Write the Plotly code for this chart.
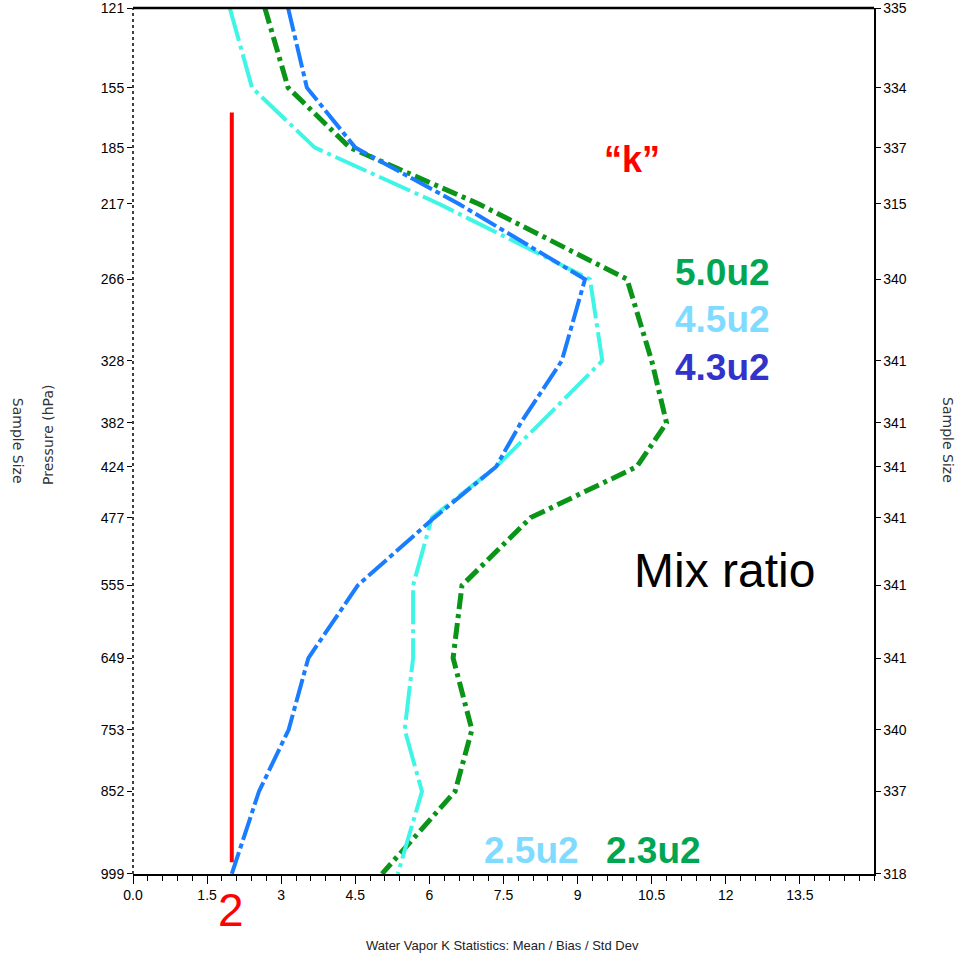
import numpy as np
import plotly.graph_objects as go

# ---- data ----
pressure_levels = [121, 155, 185, 217, 266, 328, 382, 424, 477, 555, 649, 753, 852, 999]
sample_size = ["335", "334", "337", "315", "340", "341", "341", "341", "341", "341", "341", "340", "337", "318"]

blue_vals = [3.14, 3.52, 4.50, 6.60, 9.15, 8.68, 7.85, 7.35, 6.10, 4.55, 3.55, 3.15, 2.55, 2.00]
cyan_vals = [1.96, 2.41, 3.68, 6.20, 9.25, 9.50, 8.25, 7.35, 6.05, 5.67, 5.67, 5.50, 5.85, 5.36]
green_vals = [2.67, 3.14, 4.39, 7.00, 10.00, 10.50, 10.80, 10.20, 8.05, 6.66, 6.48, 6.86, 6.52, 5.04]

red_x = [2.0, 2.0]
red_p = [167, 977]

x_tickvals = [0, 1.5, 3, 4.5, 6, 7.5, 9, 10.5, 12, 13.5]
x_ticktext = ["0.0", "1.5", "3", "4.5", "6", "7.5", "9", "10.5", "12", "13.5"]

# power-scale for pressure axis (p^0.25)
def pscale(p):
    return np.asarray(p, dtype=float) ** 0.25

yt = pscale(pressure_levels)
yrange = [pscale(999).item() + 0.0004, pscale(121).item() - 0.0004]

NARROW = "Liberation Sans Narrow, Arial Narrow, Liberation Sans, Arial, sans-serif"
SANS = "Liberation Sans, Arial, Helvetica, sans-serif"

fig = go.Figure()

fig.add_trace(go.Scatter(x=red_x, y=pscale(red_p), mode="lines",
                         line=dict(color="#ff0000", width=4), hoverinfo="skip"))
fig.add_trace(go.Scatter(x=green_vals, y=yt, mode="lines",
                         line=dict(color="#0a9418", width=5, dash="16px,5px,4px,5px"),
                         hoverinfo="skip"))
fig.add_trace(go.Scatter(x=cyan_vals, y=yt, mode="lines",
                         line=dict(color="#3ff5e6", width=4, dash="34px,5px,4px,5px"),
                         hoverinfo="skip"))
fig.add_trace(go.Scatter(x=blue_vals, y=yt, mode="lines",
                         line=dict(color="#1a7cff", width=4, dash="24px,4px,5px,4px"),
                         hoverinfo="skip"))
# invisible trace to anchor right axis
fig.add_trace(go.Scatter(x=[None], y=[None], yaxis="y2", mode="lines", hoverinfo="skip"))

fig.update_layout(
    width=959, height=961,
    margin=dict(l=133, r=85, t=8, b=87, autoexpand=False),
    paper_bgcolor="white", plot_bgcolor="white",
    showlegend=False,
    hovermode=False,
    xaxis=dict(range=[0, 15], tickmode="array", tickvals=x_tickvals, ticktext=x_ticktext,
               ticks="outside", ticklen=8, tickwidth=1, tickcolor="black",
               showline=True, linecolor="black", linewidth=1.5,
               showgrid=False, zeroline=False, automargin=False,
               tickfont=dict(family=NARROW, size=14, color="black"),
               minor=dict(ticks="outside", ticklen=5, tickcolor="black", dtick=0.3, tick0=0,
                          showgrid=False)),
    yaxis=dict(range=yrange, tickmode="array", tickvals=yt.tolist(),
               ticktext=[str(p) for p in pressure_levels],
               ticks="outside", ticklen=5, tickcolor="black",
               showline=False, showgrid=False, zeroline=False,
               ticklabeloverflow="allow", automargin=False,
               tickfont=dict(family=NARROW, size=14, color="black")),
    yaxis2=dict(range=yrange, overlaying="y", side="right", tickmode="array",
                tickvals=yt.tolist(), ticktext=sample_size,
                ticks="outside", ticklen=5, tickcolor="black",
                showline=True, linecolor="black", linewidth=1.5,
                showgrid=False, zeroline=False,
                ticklabeloverflow="allow", automargin=False,
                tickfont=dict(family=NARROW, size=14, color="black")),
)

# left dotted axis line and top border
fig.add_shape(type="line", xref="paper", yref="paper", x0=0, x1=0, y0=0, y1=1,
              line=dict(color="black", width=1.5, dash="dot"))
fig.add_shape(type="line", xref="paper", yref="paper", x0=0, x1=1, y0=1.0, y1=1.0,
              line=dict(color="black", width=2.5))

def ann(text, x, y, size, color, bold=False, family=SANS, angle=0):
    t = f"<b>{text}</b>" if bold else text
    fig.add_annotation(text=t, x=x, y=y, xref="paper", yref="paper", showarrow=False,
                       xanchor="center", yanchor="middle", textangle=angle,
                       font=dict(family=family, size=size, color=color))

ann("\u201ck\u201d", 0.673, 0.8245, 36, "#ff0000", bold=True)
ann("5.0u2", 0.796, 0.695, 37, "#00a651", bold=True)
ann("4.5u2", 0.796, 0.640, 37, "#7fdbff", bold=True)
ann("4.3u2", 0.796, 0.585, 37, "#3333cc", bold=True)
ann("Mix ratio", 0.798, 0.351, 48, "black")
ann("2.5u2", 0.538, 0.0277, 37, "#7fdbff", bold=True)
ann("2.3u2", 0.703, 0.0277, 37, "#00a651", bold=True)
ann("2", 0.132, -0.0416, 46, "#ff0000")
ann("Water Vapor K Statistics: Mean / Bias / Std Dev", 0.499, -0.082, 13, "#222222", family=NARROW)
ann("Pressure (hPa)", -0.1147, 0.507, 14, "#333333", family="DejaVu Sans, sans-serif", angle=-90)
ann("Sample Size", -0.155, 0.5, 14, "#333333", family="DejaVu Sans, sans-serif", angle=90)
ann("Sample Size", 1.0999, 0.501, 14, "#333333", family="DejaVu Sans, sans-serif", angle=90)

fig.write_html("out.html", config={"displayModeBar": False, "staticPlot": True},
               post_script="document.body.style.margin='0';document.body.style.overflow='hidden';")
